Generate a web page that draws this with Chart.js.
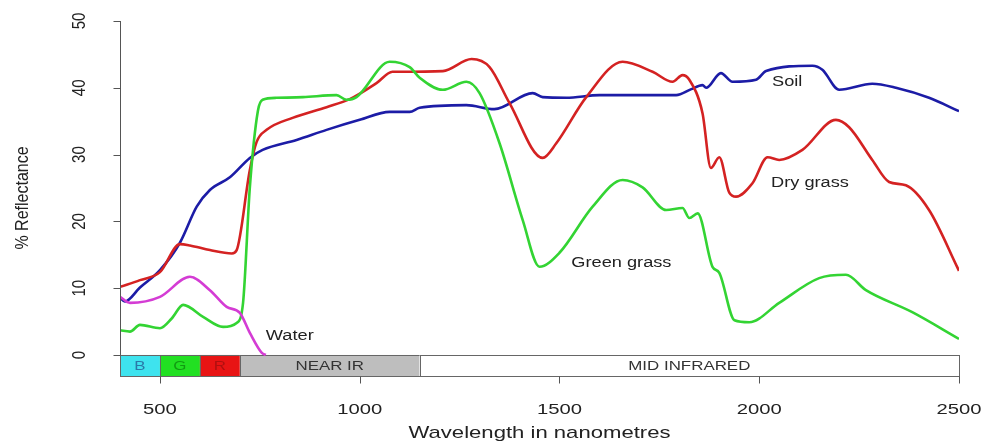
<!DOCTYPE html>
<html>
<head>
<meta charset="utf-8">
<script src="https://cdn.jsdelivr.net/npm/chart.js@4.4.0/dist/chart.umd.min.js"></script>
<style>
  body { margin: 0; background: #fff; }
  canvas { display: block; }
</style>
</head>
<body>
<canvas id="myChart" width="984" height="445"></canvas>
<script>
// wavelength (nm) / % reflectance
const soilNm  = [400, 412, 450, 500, 550, 592, 625, 675, 725, 757, 842, 917, 1000, 1075, 1125, 1150, 1267, 1337, 1433, 1458, 1517, 1600, 1792, 1830, 1858, 1867, 1904, 1933, 1992, 2017, 2133, 2158, 2200, 2283, 2342, 2425, 2500];
const soilPct = [8.6, 8.0, 10.1, 12.7, 16.8, 22.2, 24.7, 26.6, 29.5, 30.7, 32.2, 33.7, 35.2, 36.4, 36.4, 37.0, 37.4, 36.8, 39.2, 38.6, 38.5, 38.9, 38.9, 39.8, 40.4, 40.0, 42.2, 40.9, 41.2, 42.5, 43.3, 42.7, 39.7, 40.6, 40.0, 38.5, 36.5];

const dryNm  = [400, 450, 500, 550, 575, 625, 680, 692, 725, 742, 767, 832, 917, 975, 1042, 1082, 1100, 1208, 1280, 1325, 1375, 1458, 1492, 1567, 1658, 1733, 1783, 1808, 1825, 1858, 1879, 1900, 1925, 1942, 1983, 2021, 2050, 2108, 2192, 2225, 2283, 2325, 2367, 2425, 2500];
const dryPct = [10.2, 11.2, 12.4, 16.6, 16.4, 15.7, 15.2, 15.7, 27.7, 31.9, 33.7, 35.5, 37.1, 38.3, 40.7, 42.4, 42.4, 42.5, 44.3, 43.1, 37.7, 29.5, 31.7, 38.6, 43.9, 42.4, 40.9, 41.9, 41.2, 36.2, 28.0, 29.6, 24.3, 23.7, 25.7, 29.6, 29.2, 30.7, 35.2, 34.1, 29.2, 25.9, 25.4, 21.7, 12.6];

const greenNm  = [400, 425, 450, 500, 530, 558, 608, 658, 692, 708, 725, 745, 757, 792, 858, 942, 967, 992, 1075, 1125, 1150, 1208, 1267, 1300, 1350, 1408, 1450, 1500, 1583, 1658, 1708, 1767, 1808, 1825, 1846, 1883, 1900, 1938, 1975, 2050, 2150, 2217, 2267, 2383, 2500];
const greenPct = [3.7, 3.5, 4.5, 4.0, 5.5, 7.5, 5.7, 4.2, 4.8, 7.8, 25.1, 36.5, 38.2, 38.5, 38.6, 38.9, 38.2, 38.6, 43.9, 43.1, 41.5, 39.7, 40.9, 39.2, 31.7, 20.2, 13.2, 15.3, 22.2, 26.2, 25.1, 21.7, 22.0, 20.5, 21.2, 13.2, 12.3, 5.2, 4.9, 7.8, 11.5, 12.0, 9.7, 6.4, 2.4];

const waterNm  = [400, 425, 500, 575, 625, 667, 700, 725, 755, 765];
const waterPct = [8.7, 7.8, 8.7, 11.7, 9.7, 7.2, 6.3, 3.3, 0.3, 0.0];

const curveNames  = ['Soil', 'Dry grass', 'Green grass', 'Water'];
const curveColors = ['#1c1ca6', '#d42222', '#33d433', '#d43cd4'];
const nameX = [2070, 2127, 1655, 825];
const nameY = [40.9, 25.7, 13.8, 2.8];

const bandStart  = [400, 500, 600, 700, 1150];
const bandEnd    = [500, 600, 700, 1150, 2500];
const bandLabels = ['B', 'G', 'R', 'NEAR IR', 'MID INFRARED'];
const bandFill   = ['#3ee3ee', '#22e022', '#e81414', '#bebebe', '#ffffff'];
const bandInk    = ['#2a78a8', '#129a12', '#b01010', '#333333', '#333333'];
const bandBottom = -3.15;

const xTicks = [500, 1000, 1500, 2000, 2500];
const yTicks = [0, 10, 20, 30, 40, 50];

function pts(xs, ys) {
    return xs.map((x, i) => ({ x: x, y: ys[i] }));
}

function wideText(ctx, text, x, y, sx) {
    ctx.save();
    ctx.translate(x, y);
    ctx.scale(sx, 1);
    ctx.fillText(text, 0, 0);
    ctx.restore();
}

const FONT = '"Liberation Sans", Arial, sans-serif';

const decorations = {
    id: 'decorations',
    beforeDatasetsDraw(chart) {
        const ctx = chart.ctx;
        const x = chart.scales.x, y = chart.scales.y;
        const top = y.getPixelForValue(0), bot = y.getPixelForValue(bandBottom);
        ctx.save();
        for (let i = 0; i < bandLabels.length; i++) {
            const x0 = x.getPixelForValue(bandStart[i]), x1 = x.getPixelForValue(bandEnd[i]);
            ctx.fillStyle = bandFill[i];
            ctx.fillRect(x0, top, x1 - x0, bot - top);
            ctx.strokeStyle = '#666';
            ctx.lineWidth = 1;
            ctx.strokeRect(Math.round(x0) + 0.5, Math.round(top) + 0.5, Math.round(x1 - x0), Math.round(bot - top));
            ctx.fillStyle = bandInk[i];
            ctx.font = '13px ' + FONT;
            ctx.textAlign = 'center';
            ctx.textBaseline = 'middle';
            wideText(ctx, bandLabels[i], (x0 + x1) / 2, (top + bot) / 2 + 1, 1.3);
        }
        ctx.restore();
    },
    afterDraw(chart) {
        const ctx = chart.ctx;
        const x = chart.scales.x, y = chart.scales.y;
        const area = chart.chartArea;
        ctx.save();
        ctx.strokeStyle = '#555';
        ctx.lineWidth = 1;
        ctx.fillStyle = '#222';

        // y axis
        const ax = Math.round(area.left) + 0.5;
        ctx.beginPath();
        ctx.moveTo(ax, y.getPixelForValue(0));
        ctx.lineTo(ax, y.getPixelForValue(50));
        yTicks.forEach(v => {
            const py = Math.round(y.getPixelForValue(v)) + 0.5;
            ctx.moveTo(ax - 7, py);
            ctx.lineTo(ax, py);
        });
        ctx.stroke();
        ctx.font = '15px ' + FONT;
        ctx.textAlign = 'center';
        ctx.textBaseline = 'middle';
        yTicks.forEach(v => {
            ctx.save();
            ctx.translate(80, y.getPixelForValue(v));
            ctx.rotate(-Math.PI / 2);
            ctx.scale(1, 1.2);
            ctx.fillText(String(v), 0, 0);
            ctx.restore();
        });
        ctx.save();
        ctx.font = '16px ' + FONT;
        ctx.translate(23, y.getPixelForValue(23.5));
        ctx.rotate(-Math.PI / 2);
        ctx.scale(1, 1.2);
        ctx.fillText('% Reflectance', 0, 0);
        ctx.restore();

        // x axis
        const by = Math.round(area.bottom) + 0.5;
        ctx.beginPath();
        xTicks.forEach(v => {
            const px = Math.round(x.getPixelForValue(v)) + 0.5;
            ctx.moveTo(px, by);
            ctx.lineTo(px, by + 7);
        });
        ctx.stroke();
        ctx.font = '15px ' + FONT;
        xTicks.forEach(v => {
            wideText(ctx, String(v), x.getPixelForValue(v), 410, 1.35);
        });
        ctx.font = '17px ' + FONT;
        wideText(ctx, 'Wavelength in nanometres', (area.left + area.right) / 2, 433, 1.3);

        // curve names
        ctx.font = '14px ' + FONT;
        curveNames.forEach((n, i) => {
            wideText(ctx, n, x.getPixelForValue(nameX[i]), y.getPixelForValue(nameY[i]), 1.3);
        });
        ctx.restore();
    }
};

const series = [pts(soilNm, soilPct), pts(dryNm, dryPct), pts(greenNm, greenPct), pts(waterNm, waterPct)];

const ctx = document.getElementById('myChart');
const myChart = new Chart(ctx, {
    type: 'line',
    data: {
        datasets: series.map((d, i) => ({
            label: curveNames[i],
            data: d,
            borderColor: curveColors[i],
            borderWidth: 2.6,
            pointRadius: 0,
            cubicInterpolationMode: 'monotone',
            fill: false
        })).reverse()
    },
    options: {
        responsive: false,
        animation: false,
        events: [],
        layout: { padding: { left: 120, right: 25, top: 21, bottom: 69 } },
        scales: {
            x: { type: 'linear', min: 400, max: 2500, display: false },
            y: { type: 'linear', min: bandBottom, max: 50, display: false }
        },
        plugins: {
            legend: { display: false },
            tooltip: { enabled: false }
        }
    },
    plugins: [decorations]
});
</script>
</body>
</html>
